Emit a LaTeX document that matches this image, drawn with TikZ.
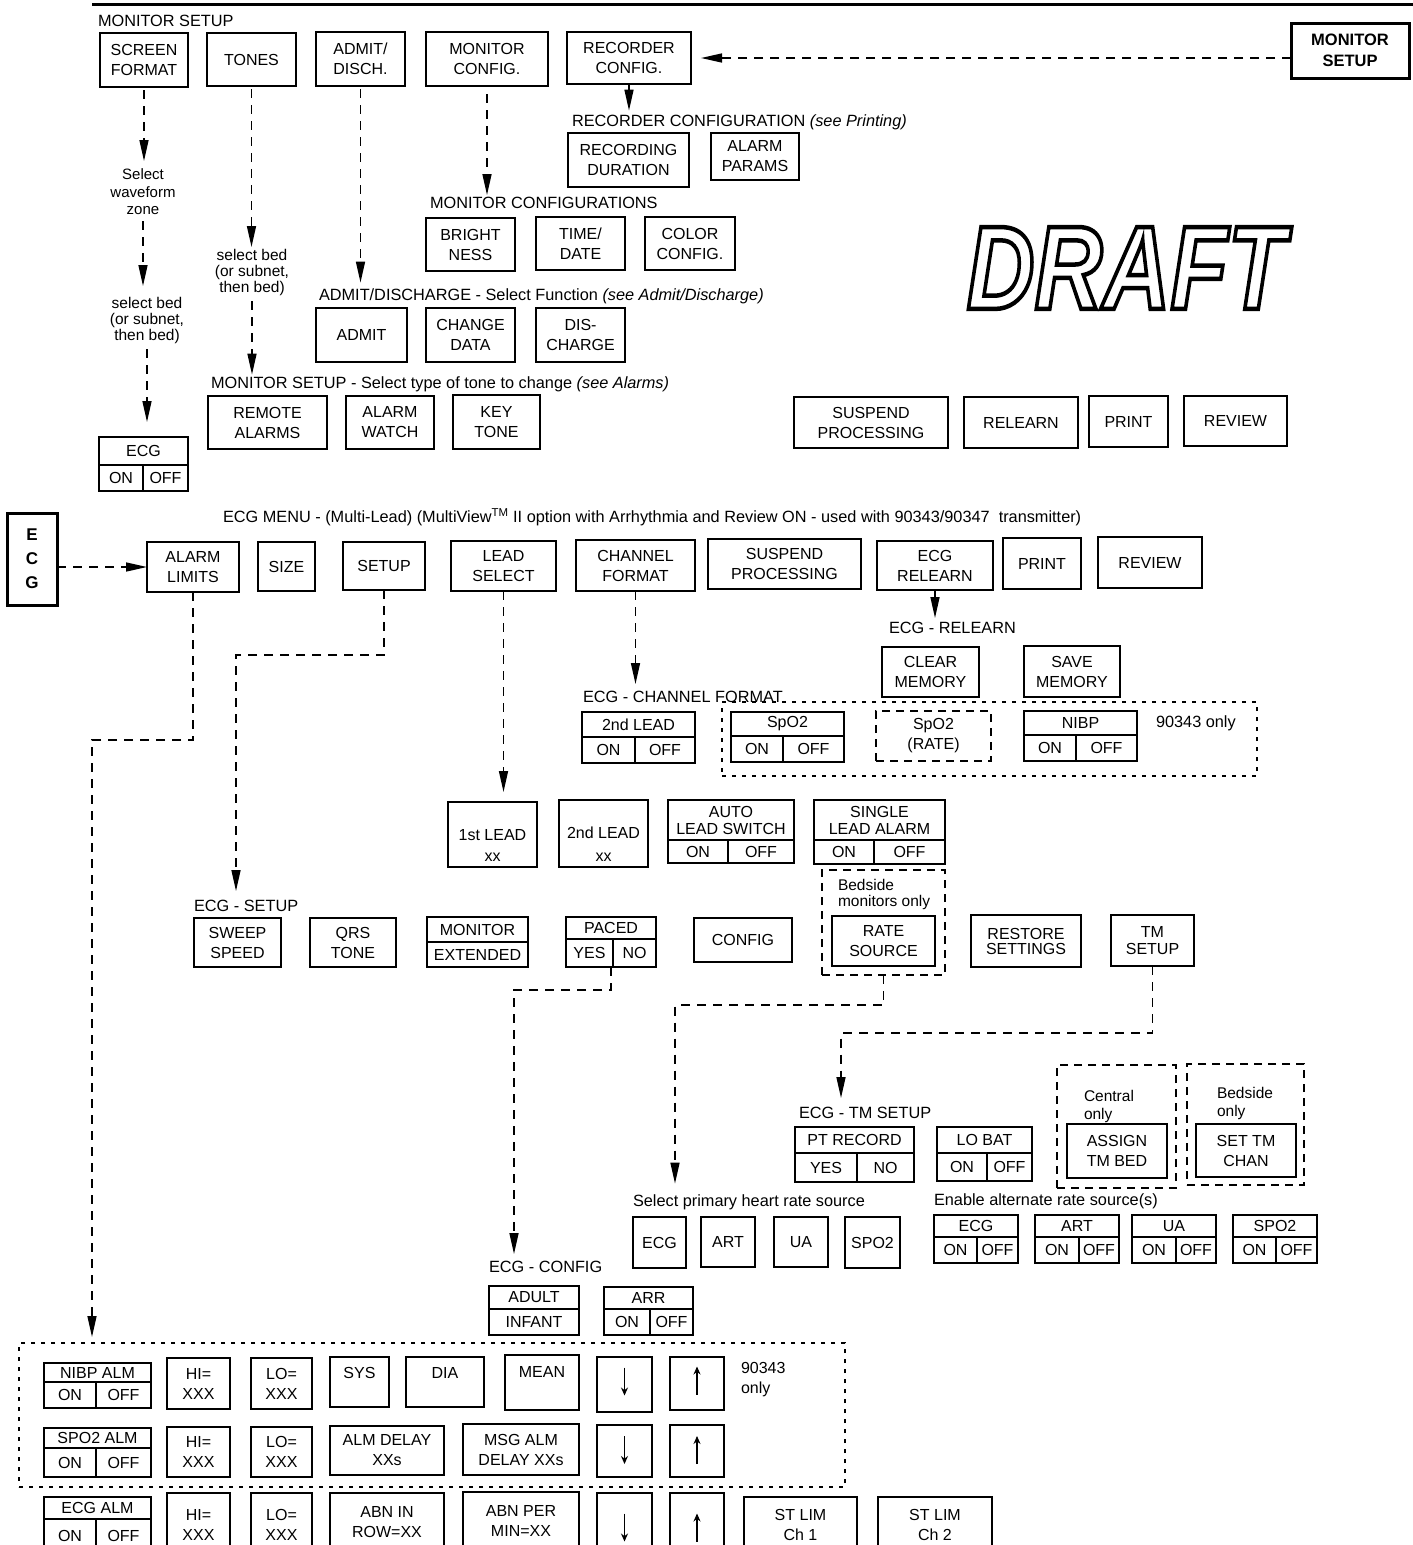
\documentclass[tikz,border=0pt]{standalone}
\usepackage{fontspec}
\setmainfont{Liberation Sans}
\usepackage{graphicx}
\usetikzlibrary{arrows.meta}
\newcommand\myfs{\fontsize{16}{20}\selectfont}
\newcommand\mylfs{\fontsize{16.3}{20}\selectfont}
\def\mysplit#1/#2\relax{\def\myL{#1}\def\myR{#2}}
\newcommand\mybox[7][box]{%
 \pgfmathsetmacro\cx{(#3+#5)/2}%
 \pgfmathsetmacro\cy{(#4+#6)/2}%
 \pgfmathsetmacro\ww{#5-#3}%
 \pgfmathsetmacro\hh{#6-#4}%
 \node[#1,minimum width=\ww pt,minimum height=\hh pt] (#2) at (\cx,\cy) {#7};}
\newcommand\mytog[9]{%
 \mysplit#9\relax
 \mybox{#1}{#2}{#3}{#4}{#5}{}%
 \draw[bl] (#2,#6) -- (#4,#6);
 \draw[bl] (#7,#6) -- (#7,#5);
 \pgfmathsetmacro\tx{(#2+#4)/2}\pgfmathsetmacro\ty{(#3+#6)/2}%
 \pgfmathsetmacro\lx{(#2+#7)/2}\pgfmathsetmacro\rx{(#7+#4)/2}\pgfmathsetmacro\by{(#6+#5)/2}%
 \node[txt] (#1-t) at (\tx,\ty) {#8};
 \node[txt] (#1-l) at (\lx,\by) {\myL};
 \node[txt] (#1-r) at (\rx,\by) {\myR};}
\newcommand\mytwo[8]{%
 \mybox{#1}{#2}{#3}{#4}{#5}{}%
 \draw[bl] (#2,#6) -- (#4,#6);
 \pgfmathsetmacro\tx{(#2+#4)/2}\pgfmathsetmacro\ty{(#3+#6)/2}\pgfmathsetmacro\by{(#6+#5)/2}%
 \node[txt] (#1-t) at (\tx,\ty) {#7};
 \node[txt] (#1-b) at (\tx,\by) {#8};}
\begin{document}
\begin{tikzpicture}[x=1pt,y=-1pt,
 box/.style={draw,line width=1.4pt,inner sep=0pt,outer sep=0pt,align=center,font=\myfs},
 tbox/.style={box,line width=3pt,font=\fontsize{16.5}{21}\selectfont\bfseries},
 dbox/.style={box,line width=1.3pt,dash pattern=on 8pt off 6pt},
 gbox/.style={box,line width=1.3pt,dash pattern=on 4pt off 6pt},
 txt/.style={inner sep=0pt,outer sep=0pt,align=center,font=\myfs},
 lbl/.style={txt,anchor=base west,font=\mylfs},
 mtxt/.style={txt,anchor=north,align=center,font=\fontsize{15.5}{17}\selectfont},
 bl/.style={line width=1.4pt},
 dl/.style={line width=1.5pt,dash pattern=on 9pt off 7pt},
 sl/.style={line width=1.5pt},
 arr/.style={-{Triangle[length=21pt,width=9pt]}},
 small/.style={line width=1.1pt,-{Stealth[length=8pt,width=7pt]}}]
\fill[white] (0,0) rectangle (1413,1545);
\useasboundingbox (0,0) rectangle (1413,1545);
\draw[line width=3pt] (92,4) -- (1413,4);
% ---------- top section
\node[lbl] (lmsu) at (98,26.4) {MONITOR SETUP};
\mybox{scr}{100}{33}{188}{87}{SCREEN\\FORMAT}
\mybox{tones}{207}{33}{296}{86}{TONES}
\mybox{admit}{316}{32}{405}{86}{ADMIT/\\DISCH.}
\mybox{moncfg}{426}{32}{548}{86}{MONITOR\\CONFIG.}
\mybox{reccfg}{567}{32}{691}{84}{RECORDER\\CONFIG.}
\mybox[tbox]{monsetup}{1291}{23}{1409}{78}{MONITOR\\SETUP}
\node[lbl] (lrec) at (572,126.4) {RECORDER CONFIGURATION \textit{(see Printing)}};
\mybox{recdur}{568}{133}{689}{187}{RECORDING\\DURATION}
\mybox{alparams}{711}{133}{799}{180}{ALARM\\PARAMS}
\node[lbl] (lmc) at (430,208.4) {MONITOR CONFIGURATIONS};
\mybox{bright}{426}{218}{515}{271}{BRIGHT\\NESS}
\mybox{timedate}{536}{217}{625}{270}{TIME/\\DATE}
\mybox{colorcfg}{645}{217}{735}{270}{COLOR\\CONFIG.}
\node[lbl] (lad) at (319,300.4) {ADMIT/DISCHARGE - Select Function \textit{(see Admit/Discharge)}};
\mybox{admitb}{316}{308}{407}{362}{ADMIT}
\mybox{chdata}{426}{308}{515}{362}{CHANGE\\DATA}
\mybox{disch}{536}{308}{625}{362}{DIS-\\CHARGE}
\node[lbl] (lms) at (211,388.4) {MONITOR SETUP - Select type of tone to change \textit{(see Alarms)}};
\mybox{remal}{208}{396}{327}{449}{REMOTE\\ALARMS}
\mybox{alwatch}{346}{396}{434}{449}{ALARM\\WATCH}
\mybox{keytone}{453}{395}{540}{449}{KEY\\TONE}
\node[mtxt,font=\fontsize{15}{17.5}\selectfont] (selw) at (143,169) {Select\\waveform\\zone};
\node[mtxt,font=\fontsize{15.5}{16}\selectfont] (selb1) at (147,297) {select bed\\(or subnet,\\then bed)};
\node[mtxt,font=\fontsize{15.5}{16}\selectfont] (selb2) at (252,249) {select bed\\(or subnet,\\then bed)};
\mytog{ecgt}{99}{437}{188}{491}{465}{143}{ECG}{ON/OFF}
\mybox{susp1}{794}{397}{948}{448}{SUSPEND\\PROCESSING}
\mybox{relearn1}{964}{397}{1078}{448}{RELEARN}
\mybox{print1}{1089}{396}{1168}{447}{PRINT}
\mybox{review1}{1184}{396}{1287}{446}{REVIEW}
\node[txt,font=\fontsize{119}{119}\selectfont\bfseries\itshape] (draft) at (1126,268) {\scalebox{0.79}[1]{\special{pdf:literal direct 1 Tr 4.5 w}DRAFT\special{pdf:literal direct 0 Tr}}};
% ---------- ECG menu
\mybox[tbox,font=\fontsize{17}{24}\selectfont\bfseries]{ecgb}{7}{513}{57}{605}{E\\C\\G}
\node[lbl] (lmenu) at (223,522.4) {ECG MENU - (Multi-Lead) (MultiView\textsuperscript{TM} II option with Arrhythmia and Review ON - used with 90343/90347\ \ transmitter)};
\mybox{alarmlim}{147}{542}{239}{592}{ALARM\\LIMITS}
\mybox{size}{258}{542}{315}{591}{SIZE}
\mybox{setup}{343}{542}{425}{590}{SETUP}
\mybox{leadsel}{451}{541}{556}{591}{LEAD\\SELECT}
\mybox{chfmt}{576}{540}{695}{591}{CHANNEL\\FORMAT}
\mybox{susp2}{708}{539}{861}{589}{SUSPEND\\PROCESSING}
\mybox{ecgrel}{877}{541}{993}{590}{ECG\\RELEARN}
\mybox{print2}{1003}{538}{1081}{589}{PRINT}
\mybox{review2}{1098}{537}{1202}{588}{REVIEW}
\node[lbl] (lrel) at (889,633.4) {ECG - RELEARN};
\mybox{clearmem}{882}{647}{979}{697}{CLEAR\\MEMORY}
\mybox{savemem}{1024}{646}{1120}{697}{SAVE\\MEMORY}
\node[lbl] (lchf) at (583,702.4) {ECG - CHANNEL FORMAT};
\mybox[gbox]{grp1}{722}{702}{1257}{776}{}
\mytog{leadnd}{582}{712}{695}{763}{737}{635}{2nd LEAD}{ON/OFF}
\mytog{spotwo}{731}{712}{844}{762}{736}{783}{SpO2}{ON/OFF}
\mybox[dbox]{sporate}{876}{711}{991}{761}{SpO2\\(RATE)}
\mytog{nibpt}{1024}{711}{1137}{761}{735}{1076}{NIBP}{ON/OFF}
\node[lbl] (nota) at (1156,727.4) {90343 only};
% ---------- lead select row
\mybox{leadone}{448}{802}{537}{867}{}
\node[txt] (leadonea) at (492.5,835) {1st LEAD};
\node[txt,anchor=base] (leadoneb) at (492.5,861) {xx};
\mybox{leadtwo}{559}{800}{648}{867}{}
\node[txt] (leadtwoa) at (603.5,833) {2nd LEAD};
\node[txt,anchor=base] (leadtwob) at (603.5,861) {xx};
\mytog{autols}{668}{800}{794}{863}{840}{728}{AUTO\\[-3pt]LEAD SWITCH}{ON/OFF}
\mytog{singla}{814}{800}{945}{864}{840}{874}{SINGLE\\[-3pt]LEAD ALARM}{ON/OFF}
\mybox[dbox]{bedgrp}{822}{870}{945}{975}{}
\node[txt,anchor=north west,align=left,font=\fontsize{15.5}{16}\selectfont] (bedtxt) at (838,879) {Bedside\\monitors only};
\mybox{ratesrc}{832}{916}{935}{966}{RATE\\SOURCE}
% ---------- setup row
\node[lbl] (lsetup) at (194,911.4) {ECG - SETUP};
\mybox{sweep}{194}{918}{281}{967}{SWEEP\\SPEED}
\mybox{qrs}{310}{918}{396}{967}{QRS\\TONE}
\mytwo{monext}{427}{917}{528}{967}{942}{MONITOR}{EXTENDED}
\mytog{paced}{566}{917}{656}{967}{939}{613}{PACED}{YES/NO}
\mybox{config}{694}{918}{792}{962}{CONFIG}
\mybox{restore}{971}{915}{1081}{967}{RESTORE\\[-5pt]SETTINGS}
\mybox{tmsetup}{1111}{915}{1194}{966}{TM\\[-3pt]SETUP}
% ---------- TM setup
\node[lbl] (ltm) at (799,1118.4) {ECG - TM SETUP};
\mytog{ptrec}{795}{1127}{914}{1182}{1153}{857}{PT RECORD}{YES/NO}
\mytog{lobat}{937}{1127}{1032}{1181}{1153}{987}{LO BAT}{ON/OFF}
\mybox[dbox]{cengrp}{1057}{1065}{1176}{1188}{}
\node[txt,anchor=north west,align=left,font=\fontsize{15.5}{18}\selectfont] (centxt) at (1084,1090) {Central\\only};
\mybox{assign}{1067}{1124}{1167}{1178}{ASSIGN\\TM BED}
\mybox[dbox]{bedgrptwo}{1187}{1064}{1304}{1185}{}
\node[txt,anchor=north west,align=left,font=\fontsize{15.5}{18}\selectfont] (bedtxttwo) at (1217,1087) {Bedside\\only};
\mybox{settm}{1196}{1124}{1296}{1177}{SET TM\\CHAN}
% ---------- rate sources
\node[lbl] (lprim) at (633,1206.4) {Select primary heart rate source};
\mybox{ecgp}{633}{1217}{686}{1268}{ECG}
\mybox{artp}{701}{1217}{755}{1267}{ART}
\mybox{uap}{774}{1217}{828}{1267}{UA}
\mybox{spop}{845}{1217}{900}{1268}{SPO2}
\node[lbl] (lalt) at (934,1205.4) {Enable alternate rate source(s)};
\mytog{ecga}{934}{1215}{1018}{1263}{1237}{977}{ECG}{ON/OFF}
\mytog{arta}{1035}{1215}{1119}{1263}{1237}{1079}{ART}{ON/OFF}
\mytog{uaa}{1132}{1215}{1216}{1263}{1237}{1176}{UA}{ON/OFF}
\mytog{spoa}{1233}{1215}{1317}{1263}{1237}{1276}{SPO2}{ON/OFF}
% ---------- config
\node[lbl] (lcfg) at (489,1272.4) {ECG - CONFIG};
\mytwo{adult}{489}{1286}{579}{1335}{1309}{ADULT}{INFANT}
\mytog{arrt}{604}{1287}{693}{1335}{1309}{650}{ARR}{ON/OFF}
% ---------- alarm limits
\mybox[gbox]{grptwo}{19}{1343}{845}{1487}{}
\mytog{nibpalm}{44}{1363}{151}{1408}{1382}{96}{NIBP ALM}{ON/OFF}
\mybox{hione}{167}{1358}{230}{1409}{HI=\\XXX}
\mybox{loone}{251}{1358}{312}{1409}{LO=\\XXX}
\mybox{sys}{330}{1357}{389}{1407}{}
\node[txt,anchor=base] (systx) at (359.5,1378.4) {SYS};
\mybox{dia}{406}{1357}{484}{1407}{}
\node[txt,anchor=base] (diatx) at (445,1378.4) {DIA};
\mybox{mean}{505}{1355}{579}{1410}{}
\node[txt,anchor=base] (meantx) at (542,1377.4) {MEAN};
\mybox{dnone}{597}{1357}{652}{1412}{}
\mybox{upone}{670}{1357}{724}{1410}{}
\node[txt,anchor=north west,align=left] (notb) at (741,1362) {90343\\only};
\mytog{spoalm}{44}{1428}{151}{1477}{1448}{96}{SPO2 ALM}{ON/OFF}
\mybox{hitwo}{167}{1427}{230}{1477}{HI=\\XXX}
\mybox{lotwo}{251}{1427}{312}{1477}{LO=\\XXX}
\mybox{almdelay}{330}{1426}{444}{1475}{ALM DELAY\\XXs}
\mybox{msgalm}{463}{1424}{579}{1475}{MSG ALM\\DELAY XXs}
\mybox{dntwo}{597}{1425}{652}{1477}{}
\mybox{uptwo}{670}{1425}{724}{1477}{}
\mytog{ecgalm}{44}{1497}{151}{1552}{1519}{96}{ECG ALM}{ON/OFF}
\mybox{hithree}{167}{1493}{230}{1556}{HI=\\XXX}
\mybox{lothree}{251}{1493}{312}{1556}{LO=\\XXX}
\mybox{abnrow}{330}{1493}{444}{1552}{ABN IN\\ROW=XX}
\mybox{abnper}{463}{1492}{579}{1550}{ABN PER\\MIN=XX}
\mybox{dnthree}{597}{1493}{652}{1552}{}
\mybox{upthree}{670}{1493}{724}{1552}{}
\mybox{stlimone}{744}{1497}{857}{1552}{ST LIM\\Ch 1}
\mybox{stlimtwo}{878}{1497}{992}{1552}{ST LIM\\Ch 2}
\foreach \n/\o in {dnone/2,dntwo/0,dnthree/-6}{
 \draw[small] ([yshift={15pt+\o pt}]\n.center) -- ([yshift={-13pt+\o pt}]\n.center);}
\foreach \n/\o in {upone/2,uptwo/0,upthree/-6}{
 \draw[small] ([yshift={-13pt+\o pt}]\n.center) -- ([yshift={15pt+\o pt}]\n.center);}
% ---------- connectors
\coordinate (cone) at (236,655);
\coordinate (ctwo) at (514,990);
\coordinate (cthree) at (675,1005);
\coordinate (cfour) at (841,1033);
\coordinate (cfive) at (92,740);
\draw[dl,arr,shorten >=10pt] (monsetup.west |- reccfg.east) -- (reccfg.east);
\draw[sl,arr,shorten >=4pt] (reccfg.south) -- (reccfg.south |- lrec.north);
\draw[dl,arr,shorten <=3pt,shorten >=8pt] (scr.south) -- (scr.south |- selw.north);
\draw[dl,arr,shorten <=6pt,shorten >=11pt] (selw.south) -- (selw.south |- selb1.north);
\draw[dl,arr,shorten <=6pt,shorten >=15pt] (selb1.south) -- (selb1.south |- ecgt.north);
\draw[dl,arr,shorten <=3pt,shorten >=2pt] (tones.south) -- (tones.south |- selb2.north);
\draw[dl,arr,shorten <=6pt,shorten >=2pt] (selb2.south) -- (selb2.south |- lms.north);
\draw[dl,arr,shorten <=3pt,shorten >=6pt] (admit.south) -- (admit.south |- lad.north);
\draw[dl,arr,shorten <=8pt,shorten >=2pt] (moncfg.south) -- (moncfg.south |- lmc.north);
\draw[dl,arr] (ecgb.east |- alarmlim.west) -- (alarmlim.west);
\draw[dl,arr,shorten >=6pt] (alarmlim.south) |- (cfive) -- (cfive |- grptwo.north);
\draw[dl,arr,shorten >=9pt] (setup.south) |- (cone) -- (cone |- lsetup.north);
\draw[dl,arr,shorten >=10pt] (leadsel.south) -- (leadsel.south |- leadone.north);
\draw[dl,arr,shorten >=7pt] (chfmt.south) -- (chfmt.south |- lchf.north);
\draw[sl,arr,shorten >=4pt] (ecgrel.south) -- (ecgrel.south |- lrel.north);
\draw[dl,arr,shorten >=7pt] (paced.south) |- (ctwo) -- (ctwo |- lcfg.north);
\draw[dl,arr,shorten >=11pt] (bedgrp.south) |- (cthree) -- (cthree |- lprim.north);
\draw[dl,arr,shorten >=9pt] (tmsetup.south) |- (cfour) -- (cfour |- ltm.north);
\end{tikzpicture}
\end{document}
